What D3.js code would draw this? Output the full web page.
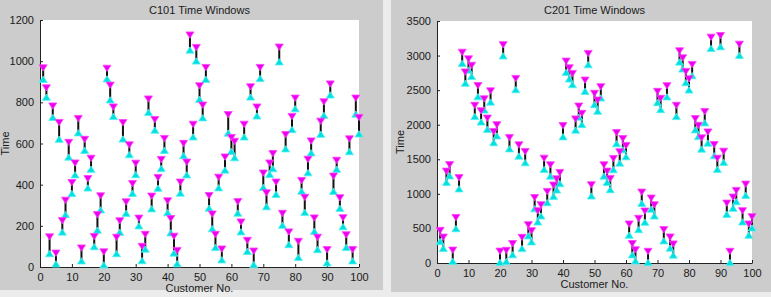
<!DOCTYPE html>
<html>
<head>
<meta charset="utf-8">
<script src="https://cdn.jsdelivr.net/npm/d3@7"></script>
<style>
  body { margin: 0; background: #ececec; }
  svg { display: block; font-family: "Liberation Sans", Arial, sans-serif; }
</style>
</head>
<body>
<svg id="chart" width="771" height="297"></svg>
<script>
// customers 1..100
const customers = d3.range(1, 101);

// Solomon C101 ready times / due dates
const c101Ready = [912,825,65,727,15,621,170,255,534,357,448,652,30,567,384,475,99,179,278,10,
  914,812,732,65,169,622,261,546,358,449,200,31,87,751,283,665,383,479,567,264,
  166,68,16,359,541,448,1054,632,1001,815,725,912,286,186,95,385,35,471,651,562,
  531,262,171,632,76,826,12,734,916,387,293,450,478,353,997,203,574,109,668,769,
  47,369,265,458,555,173,85,645,737,20,836,368,475,285,196,95,561,30,743,647];
const c101Due = [967,870,146,782,67,702,225,324,605,410,505,721,92,620,429,528,148,254,345,73,
  965,883,777,144,224,701,316,593,405,504,237,100,158,816,344,716,434,522,624,321,
  235,149,80,412,600,509,1127,693,1066,880,786,969,347,257,158,436,87,534,740,629,
  610,317,218,693,129,875,77,777,969,456,360,505,551,412,1068,260,643,170,731,820,
  124,420,338,523,612,238,144,708,802,84,889,441,518,336,239,156,622,84,820,726];

// C201 due dates, windows are 160 wide
const c201Due = [471,373,1327,1421,185,657,1233,3047,2761,2951,2858,2279,2565,2200,2373,2094,2488,1901,1999,170,
  3156,182,1812,280,2668,1707,370,1611,553,466,945,755,841,1514,1034,1418,1125,1216,1308,1986,
  2918,2822,2740,2082,2269,2163,2644,3029,1130,2452,2356,2548,1418,1327,1221,1510,1885,1606,1798,1697,
  563,279,190,644,1024,750,168,938,841,2481,2380,481,2563,375,274,2279,3067,2966,2769,2663,
  2870,2087,1990,1808,2188,1894,3264,1712,1514,3288,1615,865,168,952,1048,3163,755,1139,563,668];
const c201Ready = c201Due.map(d => Math.max(0, d - 160));

const xTicks = [0,10,20,30,40,50,60,70,80,90,100];
const c101YTicks = [0,200,400,600,800,1000,1200];
const c201YTicks = [0,500,1000,1500,2000,2500,3000,3500];

const svg = d3.select('#chart');

// figure backgrounds
svg.append('rect').attr('x', 0).attr('y', 0).attr('width', 383).attr('height', 290).attr('fill', '#cccccc');
svg.append('rect').attr('x', 391).attr('y', 0).attr('width', 380).attr('height', 292).attr('fill', '#cccccc');

// matlab-ish '^' marker: a bit wider than tall
const upTri = {
  draw(ctx, size) {
    const w = Math.sqrt(size) * 0.9, h = Math.sqrt(size) * 0.7;
    ctx.moveTo(0, -h);
    ctx.lineTo(w, h);
    ctx.lineTo(-w, h);
    ctx.closePath();
  }
};

const drawPanel = (opts) => {
  const {title, ready, due, yMax, yTicks, left, right, top, bottom, ylabelX} = opts;

  const x = d3.scaleLinear().domain([0, 100]).range([left, right]);
  const y = d3.scaleLinear().domain([0, yMax]).range([bottom, top]);

  const g = svg.append('g');

  g.append('rect')
    .attr('x', left).attr('y', top)
    .attr('width', right - left).attr('height', bottom - top)
    .attr('fill', '#fff');

  const xAxis = g.append('g')
    .attr('transform', `translate(0,${bottom})`)
    .call(d3.axisBottom(x).tickValues(xTicks).tickFormat(d3.format('d')).tickSizeInner(-3).tickSizeOuter(0).tickPadding(6));
  const yAxis = g.append('g')
    .attr('transform', `translate(${left},0)`)
    .call(d3.axisLeft(y).tickValues(yTicks).tickFormat(d3.format('d')).tickSizeInner(-3).tickSizeOuter(0).tickPadding(6));

  [xAxis, yAxis].forEach(a => {
    a.selectAll('path,line').attr('stroke', '#222');
    a.selectAll('text').attr('font-size', 11).attr('fill', '#1a1a1a').attr('font-family', null);
  });

  const data = customers.map((c, i) => ({c: c, r: ready[i], d: due[i]}));

  g.selectAll('line.win')
    .data(data)
    .join('line')
    .attr('class', 'win')
    .attr('x1', d => x(d.c)).attr('x2', d => x(d.c))
    .attr('y1', d => y(d.r)).attr('y2', d => y(d.d))
    .attr('stroke', '#111')
    .attr('stroke-width', 2);

  const tri = d3.symbol().type(upTri).size(20);

  g.selectAll('path.ready')
    .data(data)
    .join('path')
    .attr('class', 'ready')
    .attr('d', tri)
    .attr('transform', d => `translate(${x(d.c)},${y(d.r)})`)
    .attr('fill', '#00e0e0')
    .attr('stroke', '#50f0f0')
    .attr('stroke-width', 0.8);

  g.selectAll('path.due')
    .data(data)
    .join('path')
    .attr('class', 'due')
    .attr('d', tri)
    .attr('transform', d => `translate(${x(d.c)},${y(d.d)}) rotate(180)`)
    .attr('fill', '#ee00ee')
    .attr('stroke', '#ff40ff')
    .attr('stroke-width', 0.8);

  g.append('text')
    .attr('x', (left + right) / 2).attr('y', 14)
    .attr('text-anchor', 'middle')
    .attr('font-size', 11).attr('fill', '#1a1a1a')
    .text(title);

  g.append('text')
    .attr('x', (left + right) / 2).attr('y', bottom + 25)
    .attr('text-anchor', 'middle')
    .attr('font-size', 11).attr('fill', '#1a1a1a')
    .text('Customer No.');

  g.append('text')
    .attr('transform', `translate(${ylabelX},${(top + bottom) / 2}) rotate(-90)`)
    .attr('text-anchor', 'middle')
    .attr('font-size', 11).attr('fill', '#1a1a1a')
    .text('Time');
};

drawPanel({title: 'C101 Time Windows', ready: c101Ready, due: c101Due, yMax: 1200,
  yTicks: c101YTicks, left: 40, right: 359, top: 20, bottom: 267, ylabelX: 9});
drawPanel({title: 'C201 Time Windows', ready: c201Ready, due: c201Due, yMax: 3500,
  yTicks: c201YTicks, left: 437, right: 752, top: 21, bottom: 263, ylabelX: 404});
</script>
</body>
</html>
